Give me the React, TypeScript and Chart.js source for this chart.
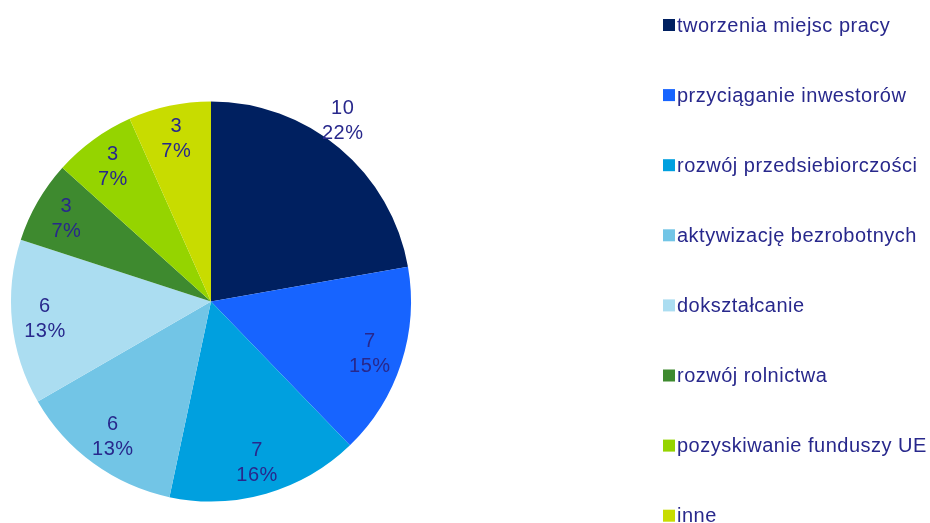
import React, { useEffect, useRef } from "react";
import { Chart, registerables } from "chart.js";

Chart.register(...registerables);

const categories = [
  "tworzenia miejsc pracy",
  "przyciąganie inwestorów",
  "rozwój przedsiebiorczości",
  "aktywizację bezrobotnych",
  "dokształcanie",
  "rozwój rolnictwa",
  "pozyskiwanie funduszy UE",
  "inne",
];
const counts = [10, 7, 7, 6, 6, 3, 3, 3];
const percentLabels = ["22%", "15%", "16%", "13%", "13%", "7%", "7%", "7%"];
const colors = [
  "#002060",
  "#1764FF",
  "#00A0DF",
  "#72C5E6",
  "#ABDDF1",
  "#3E8A2F",
  "#95D400",
  "#C8DC00",
];

const TEXT_COLOR = "#28288C";
const FONT = "20px 'Liberation Sans', Arial, sans-serif";
const SPACING = "0.5px";

const labelPlugin = {
  id: "sliceLabels",
  afterDatasetsDraw(chart: any) {
    const ctx = chart.ctx;
    const meta = chart.getDatasetMeta(0);
    ctx.save();
    ctx.font = FONT;
    try { (ctx as any).letterSpacing = SPACING; } catch (e) {}
    ctx.fillStyle = TEXT_COLOR;
    ctx.textAlign = "center";
    ctx.textBaseline = "middle";
    meta.data.forEach((arc: any, i: number) => {
      const p = arc.getProps(["x", "y", "startAngle", "endAngle", "outerRadius"], true);
      let mid = (p.startAngle + p.endAngle) / 2;
      let rr = p.outerRadius * 0.835;
      if (i === 0) {
        rr = p.outerRadius * 1.12;
        mid -= (4 * Math.PI) / 180;
      }
      const cx = p.x + Math.cos(mid) * rr;
      const cy = p.y + Math.sin(mid) * rr;
      ctx.fillText(String(counts[i]), cx, cy - 12);
      ctx.fillText(percentLabels[i], cx, cy + 13);
    });
    ctx.restore();
  },
};

const legendPlugin = {
  id: "sideLegend",
  afterDraw(chart: any) {
    const ctx = chart.ctx;
    ctx.save();
    ctx.font = FONT;
    try { (ctx as any).letterSpacing = SPACING; } catch (e) {}
    ctx.textAlign = "left";
    ctx.textBaseline = "middle";
    chart.data.labels.forEach((lab: string, i: number) => {
      const y = 25 + i * 70.1;
      ctx.fillStyle = colors[i];
      ctx.fillRect(663, y - 6, 12, 12);
      ctx.fillStyle = TEXT_COLOR;
      ctx.fillText(lab, 677, y + 1);
    });
    ctx.restore();
  },
};

export default function App() {
  const ref = useRef<HTMLCanvasElement>(null);
  useEffect(() => {
    if (!ref.current) return;
    const chart = new Chart(ref.current, {
      type: "pie",
      data: {
        labels: categories,
        datasets: [
          {
            data: counts,
            backgroundColor: colors,
            borderWidth: 0,
          },
        ],
      },
      options: {
        animation: false,
        responsive: false,
        layout: { padding: { left: 11, top: 101, right: 519, bottom: 21 } },
        plugins: {
          legend: { display: false },
          tooltip: { enabled: false },
        },
      },
      plugins: [labelPlugin, legendPlugin],
    });
    return () => chart.destroy();
  }, []);
  return (
    <div style={{ position: "absolute", left: 0, top: 0, width: 930, height: 523, background: "#fff" }}>
      <canvas ref={ref} width={930} height={523} style={{ display: "block" }} />
    </div>
  );
}
